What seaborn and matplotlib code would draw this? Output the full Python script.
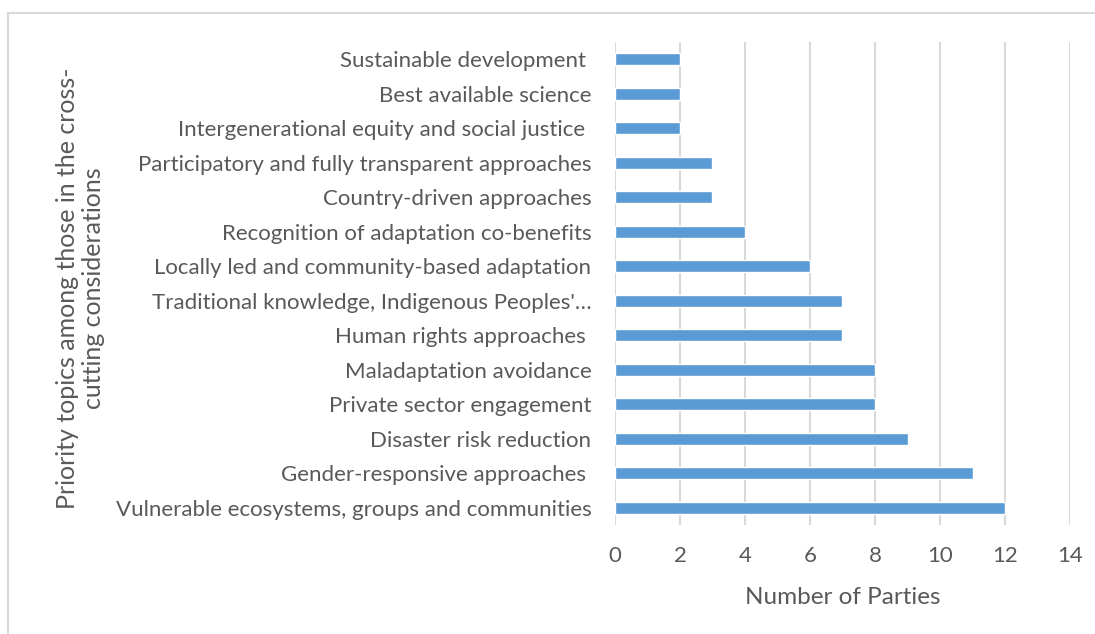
import seaborn as sns
import matplotlib.pyplot as plt
import matplotlib.patches as patches
import pandas as pd

# topics listed top to bottom as in the chart
topics = [
    "Sustainable development ",
    "Best available science",
    "Intergenerational equity and social justice ",
    "Participatory and fully transparent approaches",
    "Country-driven approaches",
    "Recognition of adaptation co-benefits",
    "Locally led and community-based adaptation",
    "Traditional knowledge, Indigenous Peoples'\u2026",
    "Human rights approaches ",
    "Maladaptation avoidance",
    "Private sector engagement",
    "Disaster risk reduction",
    "Gender-responsive approaches ",
    "Vulnerable ecosystems, groups and communities",
]
parties = [2, 2, 2, 3, 3, 4, 6, 7, 7, 8, 8, 9, 11, 12]
x_ticks = [0, 2, 4, 6, 8, 10, 12, 14]

sns.set_theme(style="white")
plt.rcParams['font.family'] = ['Lato', 'DejaVu Sans']

text_color = '#595959'
grid_color = '#d9d9d9'

df = pd.DataFrame({'topic': topics, 'parties': parties})

fig = plt.figure(figsize=(10.95, 6.34), dpi=100)
ax = fig.add_axes([0.5616, 0.1719, 0.9772 - 0.5616, 0.9338 - 0.1719])

sns.barplot(data=df, x='parties', y='topic', color='#5b9bd5', width=0.34,
            saturation=1, ax=ax, zorder=3)

ax.set_xlim(0, 14)
ax.set_ylim(len(topics) - 0.5, -0.5)
ax.set_xticks(x_ticks)
ax.grid(axis='x', color=grid_color, linewidth=1.5, zorder=0)
ax.grid(axis='y', visible=False)
for s in ax.spines.values():
    s.set_visible(False)

ax.tick_params(axis='both', length=0, colors=text_color)
ax.tick_params(axis='y', pad=17, labelsize=16)
ax.tick_params(axis='x', pad=15, labelsize=16)

ax.set_xlabel('Number of Parties', fontsize=17.5, color=text_color)
ax.xaxis.set_label_coords(0.5, -0.128)
ax.set_ylabel('Priority topics among those in the cross-\ncutting considerations',
              fontsize=18, color=text_color, linespacing=1.15)
ax.yaxis.set_label_coords(-1.12, 0.49)

# outer chart frame (cut off at right and bottom)
frame = patches.Rectangle((8 / 1095, -0.1), 1.2, 1 - 12.5 / 634 + 0.1,
                          transform=fig.transFigure, fill=False,
                          edgecolor='#d9d9d9', linewidth=1.5)
fig.patches.append(frame)

fig.savefig('out.png', dpi=100)
